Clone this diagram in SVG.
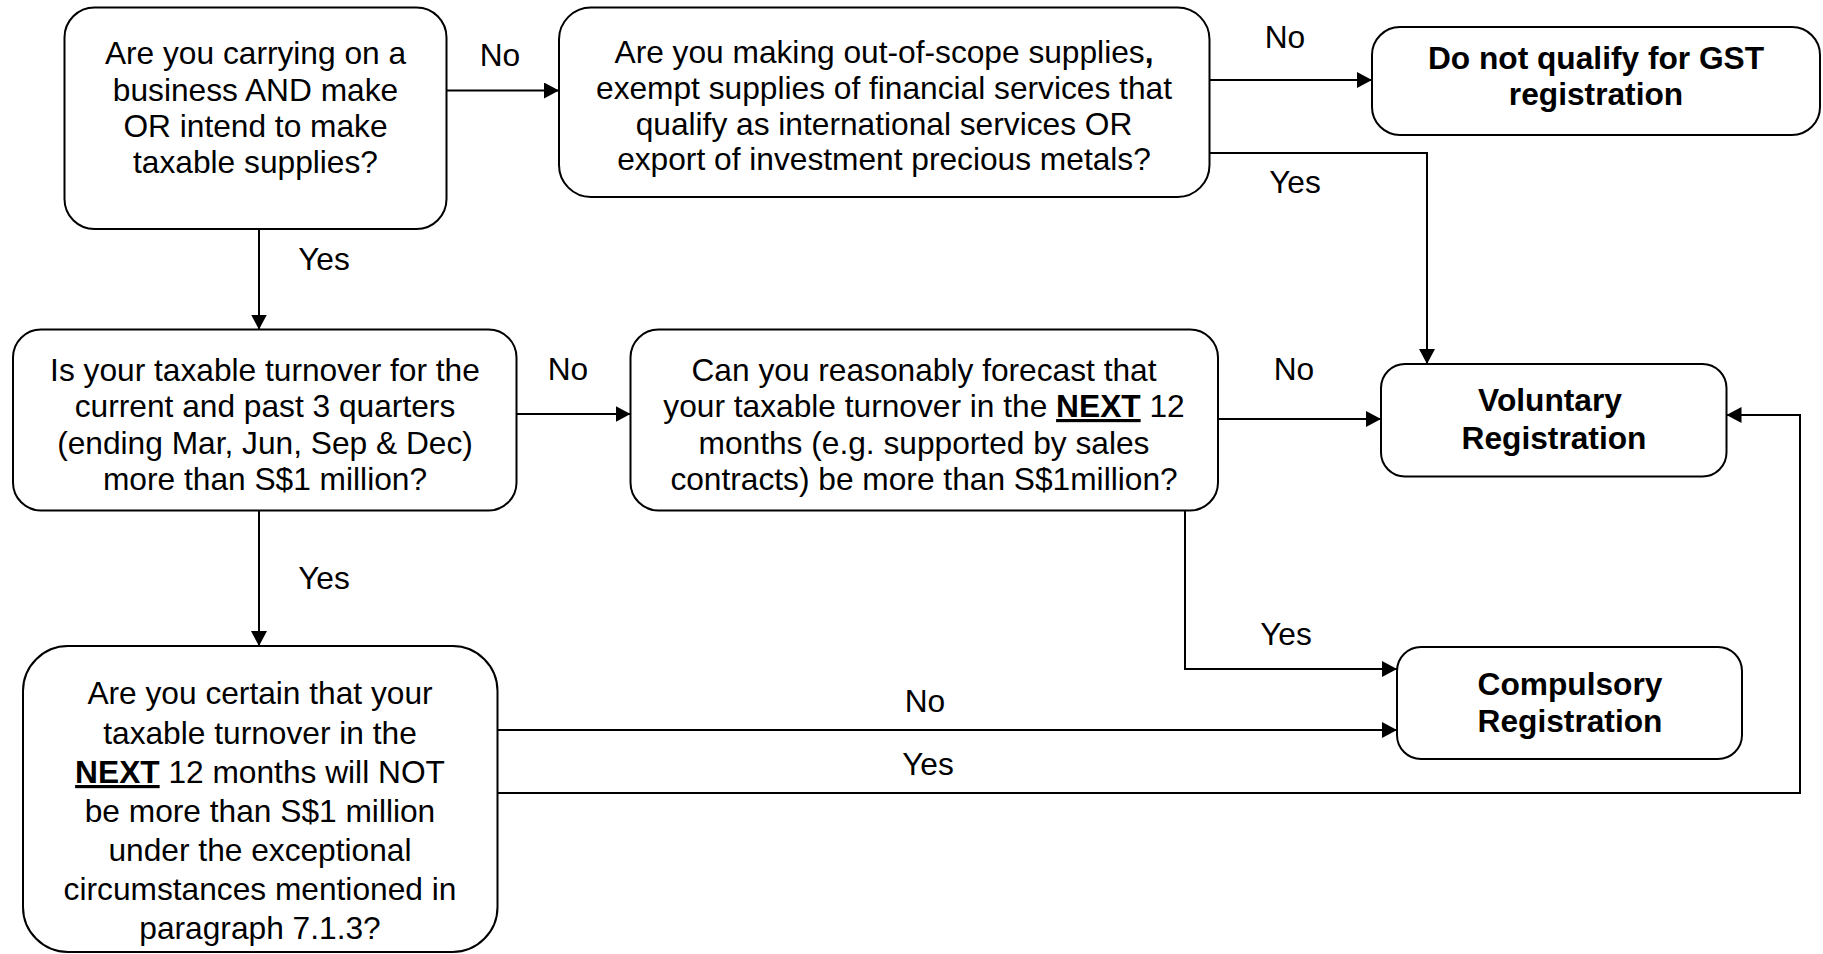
<svg xmlns="http://www.w3.org/2000/svg" width="1823" height="954" viewBox="0 0 1823 954">
  <style>
    .box { fill: #ffffff; stroke: #000000; stroke-width: 2; }
    .txt { font-family: "Liberation Sans", Arial, sans-serif; font-size: 31.7px; fill: #000000; text-anchor: middle; }
    .b { font-weight: bold; }
    .u { font-weight: bold; text-decoration: underline; }
    .conn { fill: none; stroke: #000000; stroke-width: 2; }
  </style>
  <defs>
    <marker id="arrow" markerUnits="userSpaceOnUse" markerWidth="16" markerHeight="16" refX="15" refY="8" orient="auto">
      <path d="M0,0 L15,8 L0,16 z" fill="#000000"/>
    </marker>
  </defs>
  <rect width="1823" height="954" fill="#ffffff"/>

  <!-- connectors -->
  <g id="connectors">
    <path class="conn" d="M447,90.5 H559" marker-end="url(#arrow)"/>
    <path class="conn" d="M1209.5,80 H1372" marker-end="url(#arrow)"/>
    <path class="conn" d="M1209.5,153 H1427 V364" marker-end="url(#arrow)"/>
    <path class="conn" d="M259,229 V329.5" marker-end="url(#arrow)"/>
    <path class="conn" d="M516.5,414 H630.5" marker-end="url(#arrow)"/>
    <path class="conn" d="M1218,419 H1381" marker-end="url(#arrow)"/>
    <path class="conn" d="M1185,510.5 V669 H1397" marker-end="url(#arrow)"/>
    <path class="conn" d="M259,510.5 V646" marker-end="url(#arrow)"/>
    <path class="conn" d="M497.5,730 H1397" marker-end="url(#arrow)"/>
    <path class="conn" d="M497.5,793 H1800 V415 H1726.5" marker-end="url(#arrow)"/>
  </g>

  <!-- connector labels -->
  <g id="labels" class="txt">
    <text x="500" y="66">No</text>
    <text x="1285" y="48">No</text>
    <text x="1295" y="193">Yes</text>
    <text x="324" y="270">Yes</text>
    <text x="568" y="380">No</text>
    <text x="1294" y="380">No</text>
    <text x="324" y="589">Yes</text>
    <text x="1286" y="645">Yes</text>
    <text x="925" y="712">No</text>
    <text x="928" y="775">Yes</text>
  </g>

  <g id="q-business">
    <rect class="box" x="64.5" y="7.5" width="382" height="221.5" rx="30"/>
    <text class="txt" x="255.5" y="64">Are you carrying on a</text>
    <text class="txt" x="255.5" y="100.5">business AND make</text>
    <text class="txt" x="255.5" y="137">OR intend to make</text>
    <text class="txt" x="255.5" y="173">taxable supplies?</text>
  </g>

  <g id="q-out-of-scope">
    <rect class="box" x="559" y="7.5" width="650.5" height="189.5" rx="32"/>
    <text class="txt" x="884" y="63">Are you making out-of-scope supplies<tspan class="b">,</tspan></text>
    <text class="txt" x="884" y="99">exempt supplies of financial services that</text>
    <text class="txt" x="884" y="135">qualify as international services OR</text>
    <text class="txt" x="884" y="170">export of investment precious metals?</text>
  </g>

  <g id="not-qualify">
    <rect class="box" x="1372" y="27" width="448" height="108" rx="28"/>
    <text class="txt b" x="1596" y="69">Do not qualify for GST</text>
    <text class="txt b" x="1596" y="105">registration</text>
  </g>

  <g id="q-past-turnover">
    <rect class="box" x="13" y="329.5" width="503.5" height="181" rx="28"/>
    <text class="txt" x="265" y="381">Is your taxable turnover for the</text>
    <text class="txt" x="265" y="417">current and past 3 quarters</text>
    <text class="txt" x="265" y="453.5">(ending Mar, Jun, Sep &amp; Dec)</text>
    <text class="txt" x="265" y="490">more than S$1 million?</text>
  </g>

  <g id="q-forecast">
    <rect class="box" x="630.5" y="329.5" width="587.5" height="181" rx="28"/>
    <text class="txt" x="924" y="381">Can you reasonably forecast that</text>
    <text class="txt" x="924" y="417">your taxable turnover in the <tspan class="u">NEXT</tspan> 12</text>
    <text class="txt" x="924" y="454">months (e.g. supported by sales</text>
    <text class="txt" x="924" y="490">contracts) be more than S$1million?</text>
  </g>

  <g id="voluntary">
    <rect class="box" x="1381" y="364" width="345.5" height="112.5" rx="24"/>
    <text class="txt b" x="1550" y="411">Voluntary</text>
    <text class="txt b" x="1554" y="449">Registration</text>
  </g>

  <g id="compulsory">
    <rect class="box" x="1397" y="647" width="345" height="112" rx="24"/>
    <text class="txt b" x="1570" y="695">Compulsory</text>
    <text class="txt b" x="1570" y="732">Registration</text>
  </g>

  <g id="q-certain">
    <rect class="box" x="23" y="646" width="474.5" height="306" rx="45"/>
    <text class="txt" x="260" y="704">Are you certain that your</text>
    <text class="txt" x="260" y="743.5">taxable turnover in the</text>
    <text class="txt" x="260" y="783"><tspan class="u">NEXT</tspan> 12 months will NOT</text>
    <text class="txt" x="260" y="822">be more than S$1 million</text>
    <text class="txt" x="260" y="861">under the exceptional</text>
    <text class="txt" x="260" y="900">circumstances mentioned in</text>
    <text class="txt" x="260" y="939">paragraph 7.1.3?</text>
  </g>
</svg>
